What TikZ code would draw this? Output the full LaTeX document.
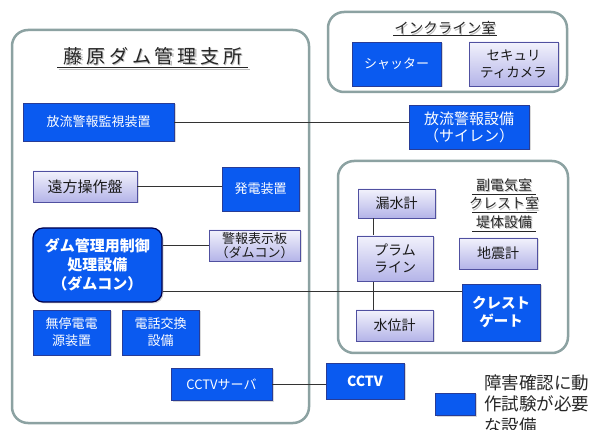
\documentclass[tikz,border=0pt]{standalone}
\usepackage{fontspec}
\setmainfont{Noto Sans CJK JP}
\newfontfamily\titlefont[LetterSpace=20]{Noto Sans CJK JP}
\usetikzlibrary{shadows,calc}
\definecolor{myblue}{RGB}{10,90,240}
\definecolor{myblueborder}{RGB}{40,60,150}
\definecolor{lavtop}{RGB}{242,242,252}
\definecolor{lavbot}{RGB}{180,180,232}
\definecolor{lavborder}{RGB}{80,80,160}
\definecolor{contgray}{RGB}{140,162,162}
\begin{document}
\begin{tikzpicture}[x=1pt,y=-1pt,
  box/.style={rectangle, inner sep=0pt, align=center, font=\fontsize{13}{17}\selectfont},
  bluebox/.style={box, fill=myblue, draw=myblueborder, line width=0.6pt, text=white,
    drop shadow={opacity=0.3, shadow xshift=1.5pt, shadow yshift=-1.5pt}},
  lavbox/.style={box, top color=lavtop, bottom color=lavbot, draw=lavborder, line width=0.8pt, text=black!90,
    drop shadow={opacity=0.25, shadow xshift=1.5pt, shadow yshift=-1.5pt}},
  container/.style={draw=contgray, line width=2.5pt, rounded corners=16pt},
  wire/.style={draw=black!80, line width=0.8pt},
  ttl/.style={inner sep=0pt, align=center, text=black!85},
  ttlshadow/.style={inner sep=0pt, align=center, text=black, opacity=0.25}]
\useasboundingbox (0,0) rectangle (592,430);
\fill[white] (0,0) rectangle (592,430);

% containers
\draw[container] (12,30) rectangle (309,423);
\draw[container] (328,12) rectangle (567,92);
\draw[container] (338,161) rectangle (568,353);

% main title
\node[ttlshadow, font=\titlefont\fontsize{19}{19}\selectfont] at (154.5,57.5) {藤原ダム管理支所};
\draw[black, opacity=0.25, line width=1.5pt] (58.5,69.5) -- (249.5,69.5);
\node[ttl, font=\titlefont\fontsize{19}{19}\selectfont] (title) at (153,56) {藤原ダム管理支所};
\draw[black!85, line width=1pt] (57,67.5) -- (248,67.5);

% incline title
\node[ttlshadow, font=\fontsize{14.5}{15}\selectfont] at (446,29.5) {インクライン室};
\node[ttl, font=\fontsize{14.5}{15}\selectfont] (inctitle) at (445,28) {インクライン室};
\draw[black!85, line width=0.8pt] (393,35.5) -- (497,35.5);

% lower right title
\node[ttlshadow, font=\fontsize{14}{18.5}\selectfont] at (505,205) {副電気室\\クレスト室\\堤体設備};
\node[ttl, font=\fontsize{14}{18.5}\selectfont] (subtitle) at (504,203.5) {副電気室\\クレスト室\\堤体設備};
\draw[black!85, line width=0.8pt] (472,194) -- (536,194);
\draw[black!85, line width=0.8pt] (472,212.5) -- (537,212.5);
\draw[black!85, line width=0.8pt] (472,231) -- (536,231);

% nodes
\node[bluebox, minimum width=151pt, minimum height=38pt] (kanshi) at (98.5,122) {放流警報監視装置};
\node[lavbox, minimum width=104pt, minimum height=31pt, font=\fontsize{15}{17}\selectfont] (enpo) at (85,186.5) {遠方操作盤};
\node[bluebox, minimum width=77pt, minimum height=44pt] (hatsu) at (260.5,189) {発電装置};
\node[bluebox, rounded corners=10pt, draw=black!70!blue, line width=1.2pt, minimum width=129pt, minimum height=74pt,
  font=\bfseries\fontsize{15}{19}\selectfont] (damcon) at (97.5,265) {ダム管理用制御\\処理設備\\（ダムコン）};
\node[lavbox, minimum width=91pt, minimum height=31pt, font=\fontsize{13}{14.5}\selectfont] (keiho) at (254.5,245.5) {警報表示板\\（ダムコン）};
\node[bluebox, minimum width=77pt, minimum height=45pt] (ups) at (71.5,332.5) {無停電電\\源装置};
\node[bluebox, minimum width=77pt, minimum height=45pt] (tel) at (160.5,332.5) {電話交換\\設備};
\node[bluebox, minimum width=101pt, minimum height=32pt] (server) at (221.5,384) {CCTVサーバ};
\node[bluebox, minimum width=78pt, minimum height=36pt, font=\bfseries\fontsize{14}{17}\selectfont] (cctv) at (365,381) {CCTV};

\node[bluebox, minimum width=89pt, minimum height=44pt] (shutter) at (396.5,64) {シャッター};
\node[lavbox, minimum width=89pt, minimum height=44pt, font=\fontsize{13.5}{17}\selectfont] (camera) at (513.5,64) {セキュリ\\ティカメラ};
\node[bluebox, minimum width=120pt, minimum height=44pt, font=\fontsize{15}{17}\selectfont] (siren) at (469,127) {放流警報設備\\（サイレン）};

\node[lavbox, minimum width=77pt, minimum height=29pt, font=\fontsize{14}{17}\selectfont] (rousui) at (396.5,203.5) {漏水計};
\node[lavbox, minimum width=78pt, minimum height=31pt, font=\fontsize{14}{17}\selectfont] (jishin) at (498,253.5) {地震計};
\node[bluebox, minimum width=78pt, minimum height=57pt, font=\bfseries\fontsize{14.5}{18}\selectfont] (crest) at (501,312.5) {クレスト\\ゲート};
\node[lavbox, minimum width=77pt, minimum height=31pt, font=\fontsize{14}{17}\selectfont] (suii) at (394.5,325.5) {水位計};

% vertical wire behind plumb line box
\draw[wire] ([xshift=16pt]rousui.south west) coordinate (v1) -- (v1 |- suii.north);
\node[lavbox, minimum width=76pt, minimum height=45pt, font=\fontsize{14}{17}\selectfont] (plumb) at (395,258.5) {プラム\\ライン};

% wires
\draw[wire] (kanshi.east) -- (kanshi.east -| siren.west);
\draw[wire] (enpo.east) -- (enpo.east -| hatsu.west);
\draw[wire] (damcon.east |- keiho.west) -- (keiho.west);
\path (damcon.east) ++(0,26) coordinate (d2);
\draw[wire] (d2) -- (d2 -| crest.west);
\draw[wire] (server.east) -- (server.east -| cctv.west);

% legend
\node[bluebox, minimum width=40pt, minimum height=22pt] (legbox) at (455,404) {};
\node[anchor=west, align=left, inner sep=0pt, text=black!85, font=\fontsize{17.5}{21.5}\selectfont] (legtext) at (484,404) {障害確認に動\\作試験が必要\\な設備};
\end{tikzpicture}
\end{document}
